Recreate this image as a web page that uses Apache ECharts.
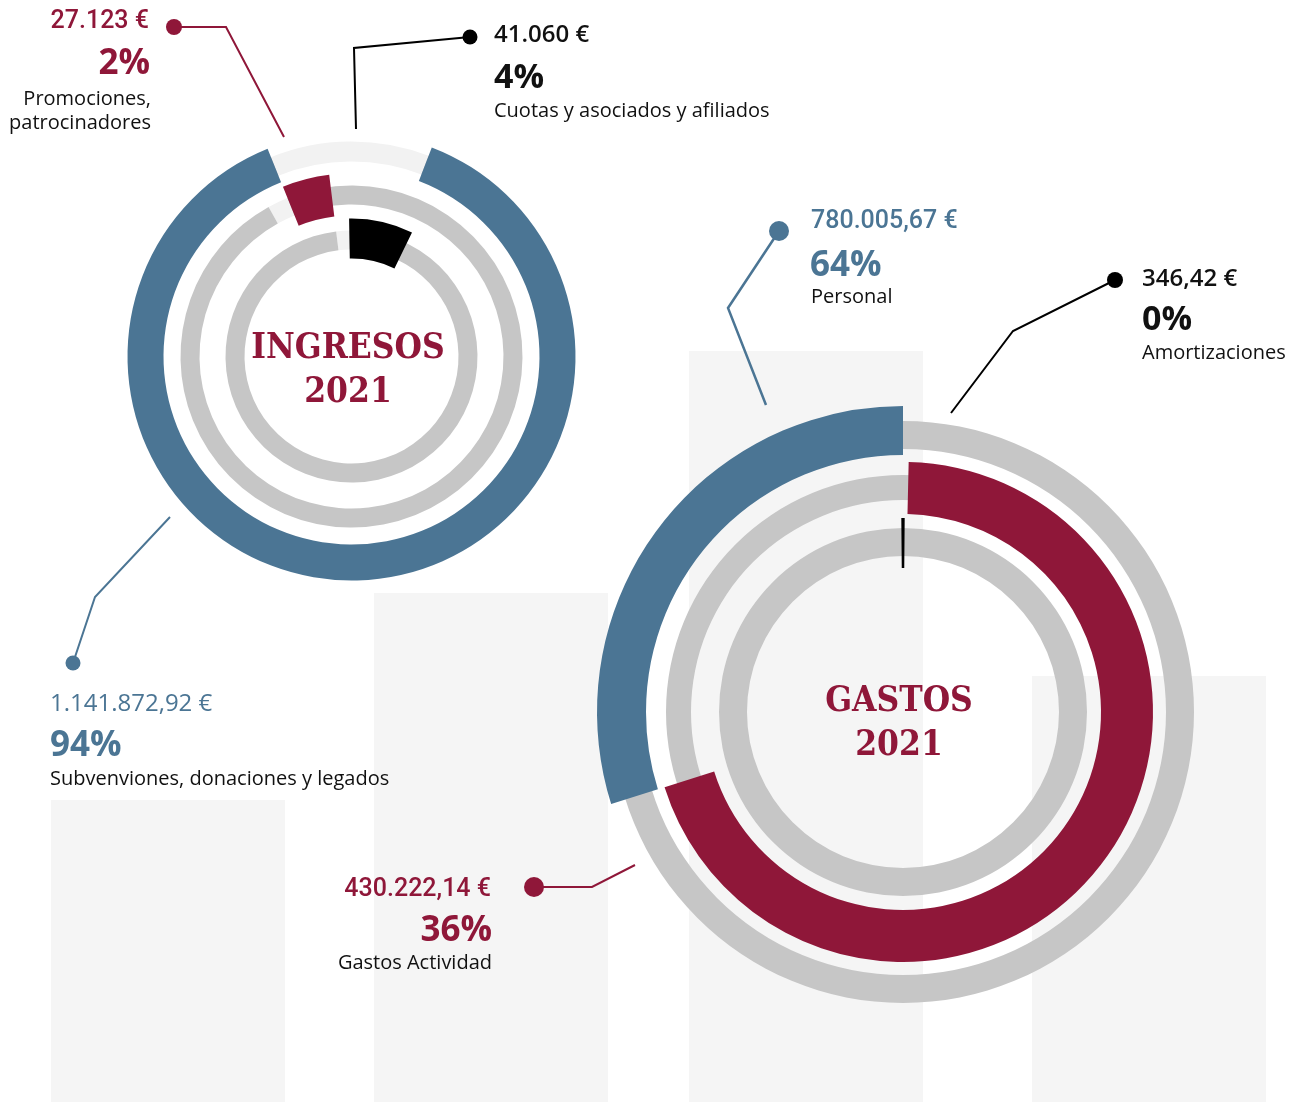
<!DOCTYPE html>
<html>
<head>
<meta charset="utf-8">
<script src="https://cdn.jsdelivr.net/npm/echarts@6/dist/echarts.min.js"></script>
<style>
  html, body { margin: 0; padding: 0; background: #fff; }
  #chart { width: 1290px; height: 1102px; }
</style>
</head>
<body>
<div id="chart"></div>
<script>
// background columns (centre on the page axis, height from the bottom)
const bgColX = [168, 491, 806, 1149];
const bgColH = [302, 509, 751, 426];

// INGRESOS 2021, rings from outer to inner
const ingNames = ['Subvenviones, donaciones y legados', 'Promociones,', 'Cuotas y asociados y afiliados'];
const ingAmounts = ['1.141.872,92 €', '27.123 €', '41.060 €'];
const ingPct = ['94%', '2%', '4%'];
// arcs as drawn in the picture, degrees clockwise from 12 o'clock
const ingArcStart = [21, 338, 359];
const ingArcSweep = [317, 15, 27];
const ingPaleStart = [338, 331, 353];
const ingPaleSweep = [43, 7, 6];

// GASTOS 2021
const gasNames = ['Personal', 'Gastos Actividad', 'Amortizaciones'];
const gasAmounts = ['780.005,67 €', '430.222,14 €', '346,42 €'];
const gasPct = ['64%', '36%', '0%'];
const gasArcStart = [252.5, 1.3, 359.5];
const gasArcSweep = [107.5, 251.2, 1];
const gasPaleStart = [0, 0, 0];
const gasPaleSweep = [0, 0, 0];

const RED = '#8f1739';
const BLUE = '#4b7594';
const GRAY = '#c6c6c6';
const PALE = '#f2f2f2';
const INK = '#111111';

const chart = echarts.init(document.getElementById('chart'), null, { renderer: 'canvas' });

function norm(a) {
  return ((90 - a) % 360 + 360) % 360;
}

function pie(center, radius, start, data, z) {
  return {
    type: 'pie',
    center,
    radius,
    startAngle: norm(start),
    clockwise: true,
    silent: true,
    animation: false,
    z,
    label: { show: false },
    labelLine: { show: false },
    emphasis: { disabled: true },
    itemStyle: { borderWidth: 0 },
    data
  };
}

function ringSeries(center, trackR, arcR, colors, start, sweep, paleStart, paleSweep) {
  const out = [];
  for (let i = 0; i < start.length; i++) {
    out.push(pie(center, trackR[i], paleStart[i], [
      { value: paleSweep[i], itemStyle: { color: PALE } },
      { value: 360 - paleSweep[i], itemStyle: { color: GRAY } }
    ], 3));
    out.push(pie(center, arcR[i], start[i], [
      { value: sweep[i], itemStyle: { color: colors[i] } },
      { value: 360 - sweep[i], itemStyle: { color: 'rgba(0,0,0,0)' } }
    ], 4));
  }
  return out;
}

const ingSeries = ringSeries([351.5, 356.5],
  [[195, 215], [152, 171], [107, 126]],
  [[188, 224], [141, 183], [98, 138]],
  [BLUE, RED, '#000'], ingArcStart, ingArcSweep, ingPaleStart, ingPaleSweep);

const gasSeries = ringSeries([903, 712],
  [[263, 291], [212, 237], [156, 184]],
  [[257, 306], [198, 250], [144, 194]],
  [BLUE, RED, '#000'], gasArcStart, gasArcSweep, gasPaleStart, gasPaleSweep);

function txt(x, y, text, font, fill, align) {
  return {
    type: 'text', x, y, z: 100, silent: true,
    style: { text, font, fill, textAlign: align, textVerticalAlign: 'middle' }
  };
}
function lead(points, color, width) {
  return {
    type: 'polyline', z: 100, silent: true,
    shape: { points },
    style: { stroke: color, lineWidth: width, fill: null }
  };
}
function dot(x, y, r, color) {
  return { type: 'circle', z: 101, silent: true, shape: { cx: x, cy: y, r }, style: { fill: color } };
}

const AMT = '"Open Sans", sans-serif';
const NUM = 'Roboto, sans-serif';
const TITLE = '"DejaVu Serif Condensed", "DejaVu Serif", serif';

const graphics = [
  // leader lines
  lead([[174, 27], [226, 27], [284, 137]], RED, 2), dot(174, 27, 8, RED),
  lead([[470, 37], [354, 48], [356, 129]], '#000', 2), dot(470, 37, 7.5, '#000'),
  lead([[170, 517], [95, 597], [73, 663]], BLUE, 2), dot(73, 663, 7.5, BLUE),
  lead([[779, 231], [728, 308], [766, 405]], BLUE, 2.5), dot(779, 231, 10, BLUE),
  lead([[1115, 280], [1013, 331], [951, 413]], '#000', 2), dot(1115, 280, 8, '#000'),
  lead([[534, 887], [592, 887], [635, 865]], RED, 2), dot(534, 887, 10, RED),

  // INGRESOS labels
  txt(149, 22, ingAmounts[1], '500 25px ' + NUM, RED, 'right'),
  txt(150, 64, ingPct[1], 'bold 35px ' + AMT, RED, 'right'),
  txt(151, 99, ingNames[1], '20px ' + AMT, INK, 'right'),
  txt(151, 123, 'patrocinadores', '20px ' + AMT, INK, 'right'),

  txt(494, 35, ingAmounts[2], '600 24px ' + AMT, INK, 'left'),
  txt(494, 78, ingPct[2], 'bold 34px ' + AMT, INK, 'left'),
  txt(494, 111, ingNames[2], '20px ' + AMT, INK, 'left'),

  txt(50, 704, ingAmounts[0], '500 24px ' + AMT, BLUE, 'left'),
  txt(50, 746, ingPct[0], 'bold 35px ' + AMT, BLUE, 'left'),
  txt(50, 779, ingNames[0], '20px ' + AMT, INK, 'left'),

  // GASTOS labels
  txt(811, 222, gasAmounts[0], '500 25px ' + NUM, BLUE, 'left'),
  txt(810, 266, gasPct[0], 'bold 35px ' + AMT, BLUE, 'left'),
  txt(811, 297, gasNames[0], '20px ' + AMT, INK, 'left'),

  txt(491, 890, gasAmounts[1], '500 25px ' + NUM, RED, 'right'),
  txt(492, 931, gasPct[1], 'bold 35px ' + AMT, RED, 'right'),
  txt(492, 963, gasNames[1], '20px ' + AMT, INK, 'right'),

  txt(1142, 279, gasAmounts[2], '600 24px ' + AMT, INK, 'left'),
  txt(1142, 320, gasPct[2], 'bold 34px ' + AMT, INK, 'left'),
  txt(1142, 353, gasNames[2], '20px ' + AMT, INK, 'left'),

  // ring titles
  txt(348, 349, 'INGRESOS', 'bold 35px ' + TITLE, RED, 'center'),
  txt(348, 393, '2021', 'bold 35px ' + TITLE, RED, 'center'),
  txt(899, 702, 'GASTOS', 'bold 35px ' + TITLE, RED, 'center'),
  txt(899, 746, '2021', 'bold 35px ' + TITLE, RED, 'center')
];

const option = {
  backgroundColor: '#ffffff',
  animation: false,
  grid: { left: 0, right: 0, top: 0, bottom: 0 },
  xAxis: { type: 'value', min: 0, max: 1290, show: false },
  yAxis: { type: 'value', min: 0, max: 1102, show: false },
  series: [
    {
      type: 'bar',
      silent: true,
      barWidth: 234,
      z: 1,
      itemStyle: { color: '#f5f5f5' },
      data: bgColX.map((x, i) => [x, bgColH[i]])
    },
    ...ingSeries,
    ...gasSeries
  ],
  graphic: { elements: graphics }
};

chart.setOption(option);
</script>
</body>
</html>
